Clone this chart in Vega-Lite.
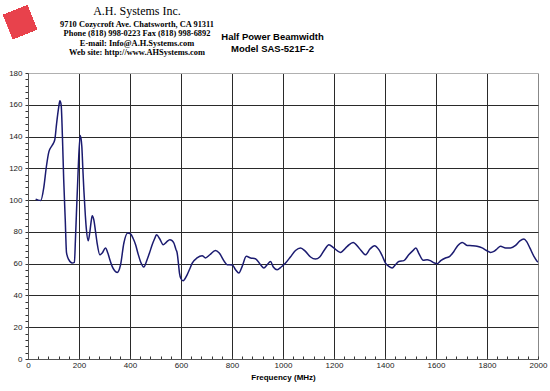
{
  "$schema": "https://vega.github.io/schema/vega-lite/v6.json",
  "autosize": "none",
  "width": 510,
  "height": 286,
  "padding": {"left": 28, "top": 73, "right": 12, "bottom": 32},
  "background": "white",
  "config": {
    "view": {"stroke": null},
    "font": "Liberation Sans"
  },
  "title": {
    "text": "A.H. Systems Inc.",
    "subtitle": [
      "9710 Cozycroft Ave. Chatsworth, CA 91311",
      "Phone (818) 998-0223 Fax (818) 998-6892",
      "E-mail:  Info@A.H.Systems.com",
      "Web site:  http://www.AHSystems.com"
    ],
    "anchor": "start",
    "frame": "group",
    "align": "center",
    "dx": 109,
    "dy": 66,
    "offset": 14,
    "font": "Liberation Serif",
    "fontSize": 12,
    "fontWeight": "normal",
    "color": "#000000",
    "subtitleFont": "Liberation Serif",
    "subtitleFontSize": 8.4,
    "subtitleFontWeight": "bold",
    "subtitleColor": "#000000",
    "subtitleLineHeight": 9.5,
    "subtitlePadding": 2
  },
  "data": {
    "values": [
      {"freq": 30, "bw": 100.5}, {"freq": 40, "bw": 100}, {"freq": 50, "bw": 99.8},
      {"freq": 62, "bw": 108}, {"freq": 72, "bw": 121}, {"freq": 82, "bw": 130.5},
      {"freq": 95, "bw": 134.5}, {"freq": 105, "bw": 138}, {"freq": 112, "bw": 148},
      {"freq": 120, "bw": 158}, {"freq": 125, "bw": 162.5}, {"freq": 130, "bw": 160},
      {"freq": 135, "bw": 140}, {"freq": 140, "bw": 113}, {"freq": 146, "bw": 88},
      {"freq": 151, "bw": 67}, {"freq": 160, "bw": 62.5}, {"freq": 173, "bw": 60.4},
      {"freq": 182, "bw": 60.8}, {"freq": 186, "bw": 75}, {"freq": 190, "bw": 92},
      {"freq": 195, "bw": 112}, {"freq": 199, "bw": 127.5}, {"freq": 205, "bw": 140.7},
      {"freq": 211, "bw": 134}, {"freq": 215, "bw": 120}, {"freq": 219, "bw": 106.5},
      {"freq": 225, "bw": 90}, {"freq": 229, "bw": 81.5}, {"freq": 236, "bw": 74.4},
      {"freq": 242, "bw": 79.3}, {"freq": 248, "bw": 87}, {"freq": 252, "bw": 90.2},
      {"freq": 258, "bw": 87.7}, {"freq": 265, "bw": 80}, {"freq": 271, "bw": 73},
      {"freq": 282, "bw": 65.6}, {"freq": 291, "bw": 66.7}, {"freq": 304, "bw": 69.9},
      {"freq": 313, "bw": 66.7}, {"freq": 322, "bw": 62}, {"freq": 330, "bw": 58.3},
      {"freq": 340, "bw": 55.5}, {"freq": 350, "bw": 54.5}, {"freq": 363, "bw": 59.3},
      {"freq": 376, "bw": 73}, {"freq": 391, "bw": 79.3}, {"freq": 402, "bw": 78.7},
      {"freq": 412, "bw": 76}, {"freq": 422, "bw": 71.9}, {"freq": 432, "bw": 66},
      {"freq": 441, "bw": 61.4}, {"freq": 454, "bw": 57.9}, {"freq": 467, "bw": 62.5},
      {"freq": 477, "bw": 67}, {"freq": 487, "bw": 71.9}, {"freq": 496, "bw": 75.5},
      {"freq": 504, "bw": 78.2}, {"freq": 517, "bw": 75.5}, {"freq": 530, "bw": 71.9},
      {"freq": 543, "bw": 73.6}, {"freq": 556, "bw": 75.1}, {"freq": 565, "bw": 74.5},
      {"freq": 572, "bw": 73}, {"freq": 580, "bw": 69}, {"freq": 585, "bw": 66.7},
      {"freq": 590, "bw": 60}, {"freq": 594, "bw": 54.1}, {"freq": 600, "bw": 50.5},
      {"freq": 608, "bw": 49.3}, {"freq": 624, "bw": 53}, {"freq": 635, "bw": 57},
      {"freq": 644, "bw": 60.4}, {"freq": 663, "bw": 63.6}, {"freq": 683, "bw": 65},
      {"freq": 696, "bw": 63.6}, {"freq": 713, "bw": 65.6}, {"freq": 735, "bw": 68.3},
      {"freq": 750, "bw": 66.7}, {"freq": 770, "bw": 61.4}, {"freq": 781, "bw": 59.3},
      {"freq": 801, "bw": 59.2}, {"freq": 814, "bw": 56.2}, {"freq": 827, "bw": 54.1},
      {"freq": 840, "bw": 58.3}, {"freq": 856, "bw": 64.6}, {"freq": 873, "bw": 63.6},
      {"freq": 892, "bw": 63.1}, {"freq": 912, "bw": 59.3}, {"freq": 925, "bw": 57.3},
      {"freq": 938, "bw": 59.3}, {"freq": 951, "bw": 61.4}, {"freq": 962, "bw": 57.9},
      {"freq": 977, "bw": 56.2}, {"freq": 993, "bw": 57.9}, {"freq": 1010, "bw": 60.4},
      {"freq": 1029, "bw": 64.2}, {"freq": 1049, "bw": 68.3}, {"freq": 1069, "bw": 69.9},
      {"freq": 1088, "bw": 67.7}, {"freq": 1108, "bw": 64.2}, {"freq": 1127, "bw": 62.9},
      {"freq": 1144, "bw": 64.2}, {"freq": 1163, "bw": 68.8}, {"freq": 1180, "bw": 71.9},
      {"freq": 1199, "bw": 69.9}, {"freq": 1225, "bw": 67.1}, {"freq": 1252, "bw": 70.9},
      {"freq": 1275, "bw": 73.4}, {"freq": 1298, "bw": 69.9}, {"freq": 1324, "bw": 65.6},
      {"freq": 1341, "bw": 69.2}, {"freq": 1359, "bw": 71.3}, {"freq": 1376, "bw": 68.8},
      {"freq": 1389, "bw": 65}, {"freq": 1402, "bw": 60.4}, {"freq": 1415, "bw": 58.3},
      {"freq": 1428, "bw": 57.3}, {"freq": 1441, "bw": 59.3}, {"freq": 1454, "bw": 61.4},
      {"freq": 1474, "bw": 61.9}, {"freq": 1493, "bw": 65.6}, {"freq": 1510, "bw": 68.3},
      {"freq": 1521, "bw": 69.9}, {"freq": 1532, "bw": 66.7}, {"freq": 1550, "bw": 62.1},
      {"freq": 1565, "bw": 62.5}, {"freq": 1578, "bw": 61.9}, {"freq": 1594, "bw": 60.4},
      {"freq": 1605, "bw": 60}, {"freq": 1620, "bw": 62.1}, {"freq": 1637, "bw": 63.6},
      {"freq": 1654, "bw": 64.6}, {"freq": 1670, "bw": 67.7}, {"freq": 1685, "bw": 71.3},
      {"freq": 1703, "bw": 73.4}, {"freq": 1722, "bw": 71.5}, {"freq": 1742, "bw": 71.3},
      {"freq": 1761, "bw": 70.9}, {"freq": 1781, "bw": 69.9}, {"freq": 1798, "bw": 68.3},
      {"freq": 1814, "bw": 67.1}, {"freq": 1827, "bw": 67.7}, {"freq": 1840, "bw": 69.4},
      {"freq": 1853, "bw": 70.9}, {"freq": 1873, "bw": 69.9}, {"freq": 1892, "bw": 69.9},
      {"freq": 1912, "bw": 71.5}, {"freq": 1929, "bw": 74.4}, {"freq": 1945, "bw": 75.5},
      {"freq": 1955, "bw": 74}, {"freq": 1968, "bw": 69.9}, {"freq": 1984, "bw": 64.6},
      {"freq": 1997, "bw": 61.4}, {"freq": 2000, "bw": 61}
    ]
  },
  "layer": [
    {
      "mark": {"type": "line", "color": "#1b1b70", "strokeWidth": 1.5, "interpolate": "monotone", "clip": true},
      "encoding": {
        "x": {
          "field": "freq",
          "type": "quantitative",
          "scale": {"domain": [0, 2000], "nice": false, "zero": true},
          "axis": {
            "title": "Frequency (MHz)",
            "titleFont": "Liberation Sans",
            "titleFontSize": 8,
            "titleFontWeight": "bold",
            "titleColor": "#000000",
            "titlePadding": 4,
            "tickCount": 500,
            "values": [0, 40, 80, 120, 160, 200, 240, 280, 320, 360, 400, 440, 480, 520, 560, 600, 640, 680, 720, 760, 800, 840, 880, 920, 960, 1000, 1040, 1080, 1120, 1160, 1200, 1240, 1280, 1320, 1360, 1400, 1440, 1480, 1520, 1560, 1600, 1640, 1680, 1720, 1760, 1800, 1840, 1880, 1920, 1960, 2000],
            "labelExpr": "datum.value % 200 === 0 ? datum.label : ''",
            "labelFont": "Liberation Sans",
            "labelFontSize": 8,
            "labelColor": "#222222",
            "labelPadding": 5,
            "labelFlush": false,
            "labelOverlap": false,
            "format": "d",
            "domainColor": "#555555",
            "domainWidth": 1,
            "tickColor": "#333333",
            "tickSize": -3,
            "tickWidth": 1,
            "grid": true,
            "gridColor": {"condition": {"test": "datum.value === 2000", "value": "#888888"}, "value": "#2a2a2a"},
            "gridOpacity": {"condition": {"test": "datum.value % 200 === 0", "value": 1}, "value": 0},
            "gridWidth": 1
          }
        },
        "y": {
          "field": "bw",
          "type": "quantitative",
          "scale": {"domain": [0, 180], "nice": false},
          "axis": {
            "title": ["Half Power Beamwidth", "Model SAS-521F-2"],
            "titleAngle": 0,
            "titleX": 244,
            "titleY": -42,
            "titleAlign": "center",
            "titleBaseline": "top",
            "titleFont": "Liberation Sans",
            "titleFontSize": 9.5,
            "titleFontWeight": "bold",
            "titleColor": "#000000",
            "titleLineHeight": 12,
            "tickCount": 500,
            "values": [0, 4, 8, 12, 16, 20, 24, 28, 32, 36, 40, 44, 48, 52, 56, 60, 64, 68, 72, 76, 80, 84, 88, 92, 96, 100, 104, 108, 112, 116, 120, 124, 128, 132, 136, 140, 144, 148, 152, 156, 160, 164, 168, 172, 176, 180],
            "labelExpr": "datum.value % 20 === 0 ? datum.label : ''",
            "format": "d",
            "labelFont": "Liberation Sans",
            "labelFontSize": 8,
            "labelColor": "#222222",
            "labelPadding": 3,
            "labelFlush": false,
            "labelOverlap": false,
            "domainColor": "#555555",
            "domainWidth": 1,
            "tickColor": "#333333",
            "tickSize": 3,
            "tickWidth": 1,
            "grid": true,
            "gridColor": {"condition": {"test": "datum.value === 180", "value": "#b0b0b0"}, "value": "#2a2a2a"},
            "gridOpacity": {"condition": {"test": "datum.value % 20 === 0 && datum.value > 0", "value": 1}, "value": 0},
            "gridWidth": 1
          }
        }
      }
    },
    {
      "mark": {"type": "point", "shape": "square", "filled": true, "size": 650, "angle": -22, "color": "#e8424c", "opacity": 0.85, "clip": false},
      "encoding": {
        "x": {"datum": -31, "type": "quantitative"},
        "y": {"datum": 212, "type": "quantitative"}
      }
    }
  ]
}
